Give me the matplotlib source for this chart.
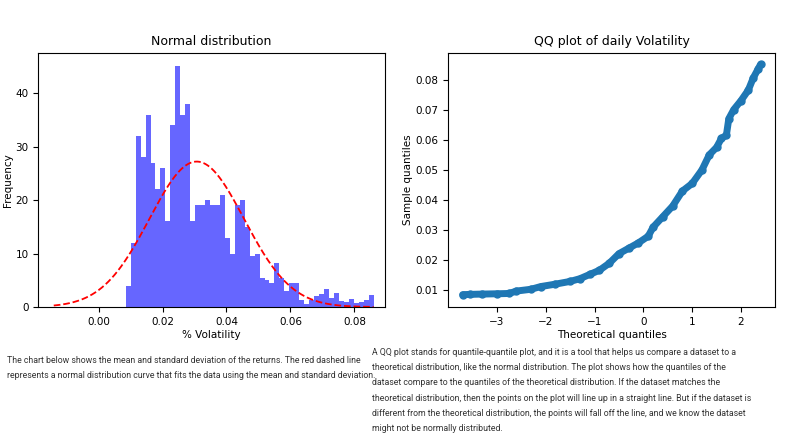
import matplotlib
matplotlib.use("Agg")
import matplotlib.pyplot as plt
import numpy as np

# Histogram data (counts per bin)
bin_start = 0.0085
bin_end = 0.0860
counts = [4, 12, 32, 28, 36, 27, 22, 26, 16, 34, 45, 36, 38, 16, 19, 19, 20, 19, 19, 21,
          13, 10, 19, 20, 15, 9.5, 10, 5.4, 5, 4.5, 8.2, 5.4, 3, 4.5, 4.5, 1.4, 0.5, 1.4, 2, 2.5,
          3.4, 1.7, 2.6, 1.2, 1, 1.5, 0.7, 1, 1.4, 2.3]
fit_mean = 0.0307
fit_peak = 27.2

# QQ plot read points
qq_theoretical = [-3.7, -3.55, -3.3, -3.0, -2.75, -2.6, -2.3, -2.1, -1.8, -1.5, -1.3, -1.1, -0.9,
                  -0.7, -0.5, -0.3, -0.1, 0.1, 0.2, 0.4, 0.6, 0.8, 1.0, 1.2, 1.35, 1.5, 1.6, 1.7,
                  1.75, 1.85, 2.0, 2.15, 2.25, 2.35, 2.4]
qq_sample = [0.0086, 0.0087, 0.0088, 0.0089, 0.0090, 0.0098, 0.0104, 0.0113, 0.0121, 0.0130,
             0.0139, 0.0153, 0.0167, 0.0190, 0.0222, 0.0240, 0.0258, 0.0280, 0.0310, 0.0345,
             0.0380, 0.0430, 0.0455, 0.0500, 0.0550, 0.0575, 0.0605, 0.0615, 0.0670, 0.0700,
             0.0730, 0.0765, 0.0805, 0.0835, 0.0850]

fig = plt.figure(figsize=(8, 4.38), dpi=100)
ax1 = fig.add_axes([0.048, 0.299, 0.433, 0.58])
ax2 = fig.add_axes([0.56, 0.299, 0.409, 0.58])

n = len(counts)
edges = np.linspace(bin_start, bin_end, n + 1)
w = edges[1] - edges[0]
ax1.bar(edges[:-1], counts, width=w, align='edge', color='blue', alpha=0.6, linewidth=0)
N = sum(counts)
sigma = N * w / (fit_peak * np.sqrt(2 * np.pi))
xs = np.linspace(-0.014, 0.086, 300)
ys = N * w / (sigma * np.sqrt(2 * np.pi)) * np.exp(-0.5 * ((xs - fit_mean) / sigma) ** 2)
ax1.plot(xs, ys, 'r--', lw=1.3)
ax1.set_xlim(-0.0188, 0.0895)
ax1.set_ylim(0, 47.5)
ax1.set_xticks([0.00, 0.02, 0.04, 0.06, 0.08])
ax1.set_yticks([0, 10, 20, 30, 40])
ax1.set_title("Normal distribution", fontsize=9)
ax1.set_xlabel("% Volatility", fontsize=7.5, labelpad=2)
ax1.set_ylabel("Frequency", fontsize=7.5, labelpad=2)
ax1.tick_params(labelsize=7.5)

ax2.plot(qq_theoretical, qq_sample, color='#1f77b4', lw=5, solid_capstyle='round')
ax2.plot(qq_theoretical, qq_sample, 'o', color='#1f77b4', ms=5)
ax2.set_xlim(-4.0, 2.7)
ax2.set_ylim(0.0045, 0.0888)
ax2.set_xticks([-3, -2, -1, 0, 1, 2])
ax2.set_xticklabels(['\u22123', '\u22122', '\u22121', '0', '1', '2'])
ax2.set_title("QQ plot of daily Volatility", fontsize=9)
ax2.set_xlabel("Theoretical quantiles", fontsize=7.5, labelpad=2)
ax2.set_ylabel("Sample quantiles", fontsize=7.5, labelpad=2)
ax2.tick_params(labelsize=7.5)

tfont = dict(family='Roboto', fontsize=6.3, color='#333333', va='top', linespacing=1.9)
fig.text(0.009, 0.188, "The chart below shows the mean and standard deviation of the returns. The red dashed line\n"
         "represents a normal distribution curve that fits the data using the mean and standard deviation.", **tfont)
fig.text(0.465, 0.206, "A QQ plot stands for quantile-quantile plot, and it is a tool that helps us compare a dataset to a\n"
         "theoretical distribution, like the normal distribution. The plot shows how the quantiles of the\n"
         "dataset compare to the quantiles of the theoretical distribution. If the dataset matches the\n"
         "theoretical distribution, then the points on the plot will line up in a straight line. But if the dataset is\n"
         "different from the theoretical distribution, the points will fall off the line, and we know the dataset\n"
         "might not be normally distributed.", **tfont)

fig.savefig("out.png", dpi=100)
